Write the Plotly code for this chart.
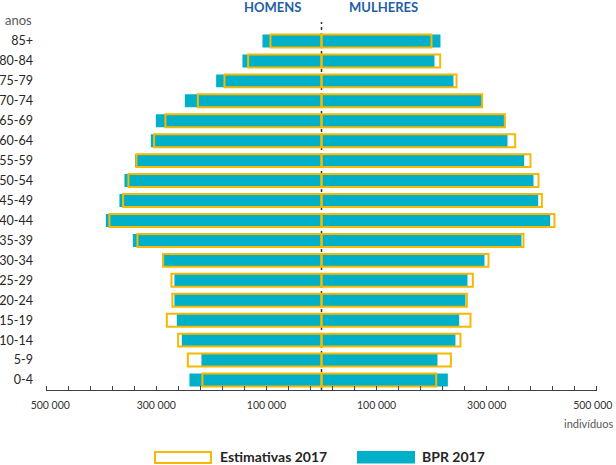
import plotly.graph_objects as go

# ---- data (individuals) ----
age_groups = ["0-4", "5-9", "10-14", "15-19", "20-24", "25-29", "30-34", "35-39", "40-44",
              "45-49", "50-54", "55-59", "60-64", "65-69", "70-74", "75-79", "80-84", "85+"]

men_bpr = [239800, 218000, 253600, 262700, 267000, 267000, 288800, 342600, 391600,
           366900, 357800, 338400, 309900, 300800, 248100, 191300, 143500, 107200]
men_est = [216200, 242700, 260300, 280800, 270700, 272500, 287500, 334200, 385100,
           360200, 350600, 336000, 303900, 283400, 224500, 176200, 133200, 92700]
women_bpr = [229400, 210600, 243200, 250000, 261400, 265000, 295900, 363100, 415200,
             393400, 384900, 368000, 337700, 333500, 291200, 239600, 205100, 216000]
women_est = [208200, 234900, 252300, 270500, 263900, 274800, 303200, 366700, 423000,
             400100, 394000, 379400, 351600, 332900, 291700, 245100, 215500, 199700]

# end labels sit slightly inside the axis ends, as in the original
tick_vals = [-492500, -300000, -100000, 100000, 300000, 492500]
tick_text = ["500 000", "300 000", "100 000", "100 000", "300 000", "500 000"]
minor_ticks = [-500000 + 40000 * k for k in range(13)] + [20000 + 40000 * k for k in range(13)]

TEAL = "#00AFC8"
GOLD = "#F7B900"
FONT = "Lato"

fig = go.Figure()

fig.add_trace(go.Bar(y=age_groups, x=[-v for v in men_bpr], orientation="h",
                     marker=dict(color=TEAL, line=dict(width=0)), name="BPR 2017", width=0.65))
fig.add_trace(go.Bar(y=age_groups, x=women_bpr, orientation="h",
                     marker=dict(color=TEAL, line=dict(width=0)), name="BPR 2017", width=0.65,
                     showlegend=False))
fig.add_trace(go.Bar(y=age_groups, x=[-v for v in men_est], orientation="h",
                     marker=dict(color="rgba(0,0,0,0)", line=dict(color=GOLD, width=2)),
                     name="Estimativas 2017", width=0.65))
fig.add_trace(go.Bar(y=age_groups, x=women_est, orientation="h",
                     marker=dict(color="rgba(0,0,0,0)", line=dict(color=GOLD, width=2)),
                     name="Estimativas 2017", width=0.65, showlegend=False))

L, R, T, B = 46, 19, 31, 75
W, H = 616, 465
pw, ph = W - L - R, H - T - B


def px(x):
    return (x - L) / pw


def py(y):
    return (H - B - y) / ph


shapes = [
    # center dotted line (behind bars)
    dict(type="line", xref="x", yref="paper", x0=0, x1=0, y0=0, y1=py(22),
         line=dict(color="#333333", width=1.5, dash="dot"), layer="below"),
    # legend swatches
    dict(type="rect", xref="paper", yref="paper", x0=px(155), x1=px(211), y0=py(463), y1=py(452),
         line=dict(color=GOLD, width=2), fillcolor="white"),
    dict(type="rect", xref="paper", yref="paper", x0=px(357), x1=px(415), y0=py(463.5), y1=py(451),
         line=dict(width=0), fillcolor=TEAL),
]

annotations = [
    dict(text="<b>HOMENS</b>", xref="paper", yref="paper", x=px(272), y=py(7), showarrow=False,
         font=dict(family=FONT, size=13, color="#1F5EA8"), xanchor="center", yanchor="middle"),
    dict(text="<b>MULHERES</b>", xref="paper", yref="paper", x=px(383), y=py(7), showarrow=False,
         font=dict(family=FONT, size=13, color="#1F5EA8"), xanchor="center", yanchor="middle"),
    dict(text="anos", xref="paper", yref="paper", x=px(34), y=py(20), showarrow=False,
         font=dict(family=FONT, size=13, color="#595959"), xanchor="right", yanchor="middle"),
    dict(text="indivíduos", xref="paper", yref="paper", x=px(615), y=py(423), showarrow=False,
         font=dict(family=FONT, size=11, color="#595959"), xanchor="right", yanchor="middle"),
    dict(text="<b>Estimativas 2017</b>", xref="paper", yref="paper", x=px(218), y=py(456.5), showarrow=False,
         font=dict(family=FONT, size=14, color="#262626"), xanchor="left", yanchor="middle"),
    dict(text="<b>BPR 2017</b>", xref="paper", yref="paper", x=px(420), y=py(456.5), showarrow=False,
         font=dict(family=FONT, size=14, color="#262626"), xanchor="left", yanchor="middle"),
]

fig.update_layout(
    width=W, height=H,
    margin=dict(l=L, r=R, t=T, b=B, pad=0),
    barmode="overlay", bargap=0.35,
    plot_bgcolor="white", paper_bgcolor="white",
    showlegend=False,
    font=dict(family=FONT, size=13, color="#262626"),
    shapes=shapes, annotations=annotations,
    xaxis=dict(range=[-500200, 500200], tickmode="array", tickvals=tick_vals, ticktext=tick_text,
               ticks="", showgrid=False, zeroline=False, showline=True, linecolor="#404040",
               linewidth=1, tickfont=dict(family=FONT, size=10.5, color="#333333"),
               ticklabelstandoff=5, automargin=False, ticklabeloverflow="allow",
               minor=dict(tickmode="array", tickvals=minor_ticks, ticks="inside", ticklen=4,
                          tickcolor="#404040", tickwidth=1, showgrid=False)),
    yaxis=dict(categoryorder="array", categoryarray=age_groups, range=[-0.5, 17.5],
               showgrid=False, zeroline=False, showline=False, ticks="", automargin=False,
               tickfont=dict(family=FONT, size=12.5, color="#262626"), ticklabelstandoff=12),
)

fig.write_html("out.html", config={"displayModeBar": False},
               post_script="document.body.style.margin='0';document.body.style.overflow='hidden';")
